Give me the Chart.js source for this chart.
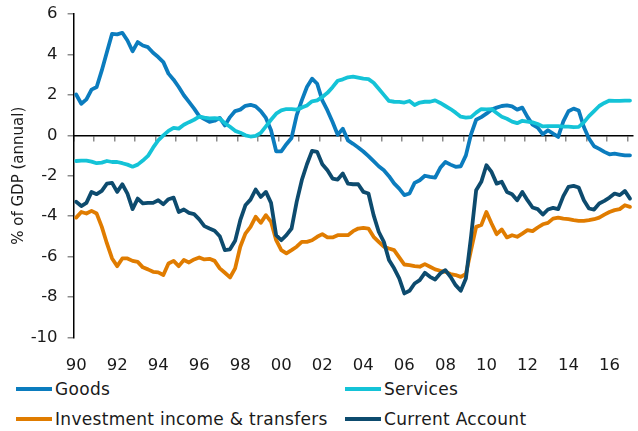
<!DOCTYPE html>
<html>
<head>
<meta charset="utf-8">
<script src="https://cdn.jsdelivr.net/npm/chart.js@4.4.0/dist/chart.umd.min.js"></script>
<style>
  body { margin: 0; background: #fff; font-family: "DejaVu Sans", sans-serif; }
  #wrap { position: relative; width: 638px; height: 431px; }
  #chart { position: absolute; left: 0; top: 0; }
  .item { position: absolute; height: 20px; display: flex; align-items: center; font-size: 17px; letter-spacing: 0.3px; color: #1a1a1a; white-space: nowrap; }
  .item .swatch { display: inline-block; width: 36px; height: 4px; margin-right: 3px; }
</style>
</head>
<body>
<div id="wrap">
  <canvas id="chart" width="638" height="372"></canvas>
  <div id="legend"></div>
</div>
<script>
// Quarterly data, 1990 Q1 - 2017 Q1, % of GDP (annual)
const firstYear = 1990;
const labelYears = [1990, 1992, 1994, 1996, 1998, 2000, 2002, 2004, 2006, 2008, 2010, 2012, 2014, 2016];
const markYears = [1990, 1991, 1992, 1993, 1994, 1995, 1996, 1997, 1998, 1999, 2000, 2001, 2002, 2003,
  2004, 2005, 2006, 2007, 2008, 2009, 2010, 2011, 2012, 2013, 2014, 2015, 2016, 2017];

const goods = [
  2.02, 1.56, 1.78, 2.26, 2.39, 3.21, 4.12, 5.02, 4.99, 5.07,
  4.69, 4.16, 4.61, 4.44, 4.36, 4.08, 3.87, 3.62, 3.05, 2.75,
  2.39, 1.98, 1.65, 1.32, 0.95, 0.8, 0.67, 0.72, 0.86, 0.49,
  0.9, 1.2, 1.27, 1.46, 1.51, 1.43, 1.2, 0.86, 0.25, -0.79,
  -0.79, -0.44, -0.13, 0.99, 1.73, 2.39, 2.8, 2.55, 1.73, 1.23,
  0.66, 0.03, 0.33, -0.25, -0.42, -0.6, -0.8, -1.03, -1.28, -1.53,
  -1.73, -2.02, -2.38, -2.64, -2.96, -2.88, -2.35, -2.22, -2.0, -2.06,
  -2.09, -1.61, -1.32, -1.45, -1.56, -1.53, -0.99, 0.05, 0.77, 0.9,
  1.07, 1.27, 1.37, 1.45, 1.48, 1.43, 1.27, 1.37, 0.91, 0.53,
  0.38, 0.05, 0.25, 0.08, -0.08, 0.69, 1.19, 1.32, 1.23, 0.41,
  -0.16, -0.54, -0.67, -0.82, -0.94, -0.91, -0.95, -0.99, -0.99
];
const services = [
  -1.27, -1.25, -1.25, -1.3, -1.38, -1.35, -1.27, -1.32, -1.32, -1.38,
  -1.45, -1.55, -1.45, -1.25, -1.02, -0.61, -0.25, 0.0, 0.22, 0.37,
  0.33, 0.52, 0.65, 0.77, 0.92, 0.87, 0.84, 0.85, 0.82, 0.6,
  0.42, 0.22, 0.13, 0.0, -0.06, -0.03, 0.12, 0.44, 0.77, 1.07,
  1.23, 1.3, 1.3, 1.27, 1.37, 1.48, 1.68, 1.73, 1.9, 2.1,
  2.38, 2.7, 2.77, 2.87, 2.9, 2.85, 2.8, 2.78, 2.6, 2.3,
  2.0, 1.7, 1.66, 1.65, 1.62, 1.7, 1.5, 1.62, 1.66, 1.66,
  1.73, 1.6, 1.45, 1.3, 1.12, 0.92, 0.87, 0.9, 1.12, 1.3,
  1.28, 1.3, 1.1, 0.92, 0.82, 0.68, 0.6, 0.72, 0.68, 0.64,
  0.56, 0.44, 0.45, 0.45, 0.45, 0.43, 0.43, 0.4, 0.42, 0.64,
  0.95, 1.2, 1.45, 1.6, 1.72, 1.7, 1.7, 1.72, 1.72
];
const income = [
  -4.07, -3.79, -3.87, -3.74, -3.87, -4.53, -5.35, -6.09, -6.47, -6.09,
  -6.09, -6.21, -6.26, -6.53, -6.63, -6.75, -6.78, -6.91, -6.34, -6.21,
  -6.47, -6.17, -6.29, -6.14, -6.04, -6.14, -6.11, -6.21, -6.58, -6.8,
  -7.03, -6.58, -5.51, -4.86, -4.53, -4.03, -4.33, -3.95, -4.28, -5.19,
  -5.68, -5.84, -5.68, -5.51, -5.27, -5.27, -5.19, -5.02, -4.89, -5.05,
  -5.05, -4.94, -4.94, -4.94, -4.74, -4.61, -4.58, -4.61, -5.02, -5.27,
  -5.51, -5.6, -5.68, -6.04, -6.39, -6.42, -6.47, -6.5, -6.37, -6.5,
  -6.63, -6.7, -6.75, -6.86, -6.91, -7.0, -6.86, -5.68, -4.53, -4.44,
  -3.79, -4.36, -4.89, -4.66, -5.05, -4.94, -5.02, -4.86, -4.69, -4.74,
  -4.56, -4.4, -4.33, -4.12, -4.07, -4.12, -4.15, -4.2, -4.23, -4.23,
  -4.2, -4.15, -4.07, -3.92, -3.79, -3.7, -3.65, -3.46, -3.54
];
const currentAccount = [
  -3.29, -3.5, -3.34, -2.8, -2.91, -2.75, -2.39, -2.35, -2.8, -2.42,
  -2.88, -3.65, -3.13, -3.37, -3.34, -3.34, -3.21, -3.41, -3.16, -3.08,
  -3.79, -3.67, -3.84, -3.9, -4.16, -4.49, -4.61, -4.72, -4.99, -5.68,
  -5.64, -5.22, -4.2, -3.46, -3.18, -2.68, -3.05, -2.8, -3.34, -4.94,
  -5.19, -4.94, -4.61, -3.29, -2.22, -1.43, -0.77, -0.82, -1.43, -1.73,
  -2.14, -2.19, -1.89, -2.39, -2.42, -2.42, -2.8, -2.88, -3.95, -4.77,
  -5.27, -6.17, -6.58, -7.08, -7.82, -7.69, -7.33, -7.16, -6.8, -7.0,
  -7.13, -6.83, -6.67, -7.0, -7.41, -7.69, -7.08, -5.02, -2.72, -2.3,
  -1.48, -1.81, -2.39, -2.3, -2.8, -2.91, -3.21, -2.8, -3.21, -3.57,
  -3.65, -3.92, -3.67, -3.59, -3.65, -3.01, -2.55, -2.5, -2.58, -3.21,
  -3.62, -3.67, -3.37, -3.24, -3.08, -2.88, -2.96, -2.75, -3.13
];

// each quarter sits at the middle of its quarter on a linear year axis
const quarters = goods.map((v, i) => firstYear + (i + 0.5) / 4);

const textColor = '#1a1a1a';
const tickGray = '#8c8c8c';
Chart.defaults.font.family = "'DejaVu Sans', sans-serif";

const series = [
  { label: 'Goods', data: goods, color: '#0b7cbe', order: 3 },
  { label: 'Services', data: services, color: '#14c3d7', order: 2 },
  { label: 'Investment income & transfers', data: income, color: '#e07c00', order: 1 },
  { label: 'Current Account', data: currentAccount, color: '#0d4b6e', order: 0 }
];

const chart = new Chart(document.getElementById('chart'), {
  type: 'line',
  data: {
    labels: quarters,
    datasets: series.map(s => ({
      label: s.label,
      data: s.data,
      borderColor: s.color,
      backgroundColor: s.color,
      order: s.order
    }))
  },
  options: {
    responsive: false,
    animation: false,
    layout: { padding: { top: 14, right: 0.5, left: 0, bottom: 0 } },
    plugins: { legend: { display: false }, tooltip: { enabled: false } },
    elements: {
      point: { radius: 0 },
      line: { borderWidth: 3.8, tension: 0, borderCapStyle: 'round', borderJoinStyle: 'round' }
    },
    scales: {
      x: {
        type: 'linear',
        min: 1990,
        max: 2017.25,
        grid: { display: false, drawTicks: false },
        border: { display: false },
        afterBuildTicks: s => { s.ticks = labelYears.map(y => ({ value: y + 0.125 })); },
        ticks: {
          autoSkip: false,
          maxRotation: 0,
          padding: 18,
          color: textColor,
          font: { size: 16.5 },
          callback: v => String(Math.floor(v)).slice(2)
        },
        afterFit: s => { s.height = 34.5; }
      },
      zero: {
        type: 'linear',
        axis: 'x',
        position: { y: 0 },
        min: 1990,
        max: 2017.25,
        afterBuildTicks: s => { s.ticks = markYears.map(y => ({ value: y })); },
        grid: { drawOnChartArea: false, drawTicks: true, tickLength: 5, color: tickGray, lineWidth: 1.5 },
        border: { color: '#000', width: 1.5 },
        ticks: { display: false }
      },
      y: {
        min: -10,
        max: 6,
        ticks: { stepSize: 2, padding: 10, color: textColor, font: { size: 16.5 } },
        grid: { drawOnChartArea: false, tickLength: 6, color: tickGray, lineWidth: 1.5 },
        border: { color: '#000', width: 1.5 },
        title: {
          display: true,
          text: '% of GDP (annual)',
          color: textColor,
          font: { size: 15 },
          padding: { top: 10, bottom: 0 }
        },
        // fixed axis width; the label overhang is already covered by the layout padding
        afterFit: s => { s.width = 73.6; s.paddingTop = 0; s.paddingBottom = 0; }
      }
    }
  }
});

// Legend: two columns under the chart, like the original
const legend = document.getElementById('legend');
const colX = [16, 345];
const rowY = [379, 409];
chart.data.datasets.forEach((ds, i) => {
  const item = document.createElement('div');
  item.className = 'item';
  item.style.left = colX[i % 2] + 'px';
  item.style.top = rowY[Math.floor(i / 2)] + 'px';
  item.innerHTML = '<span class="swatch" style="background:' + ds.borderColor + '"></span>' + ds.label;
  legend.appendChild(item);
});
</script>
</body>
</html>
